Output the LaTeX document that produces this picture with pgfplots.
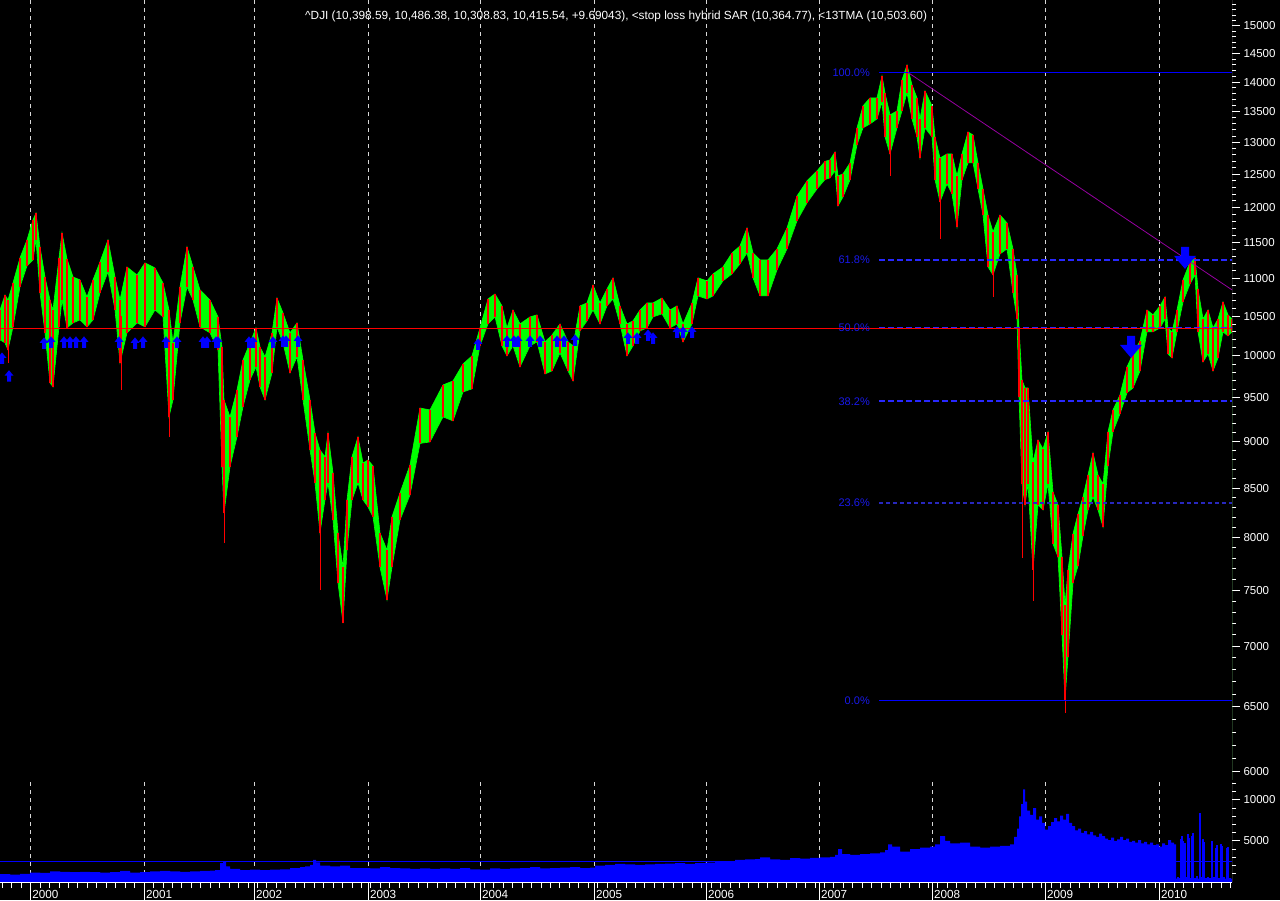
\documentclass[border=0pt]{standalone}
\usepackage{fontspec}
\setmainfont{Liberation Sans}
\usepackage{pgfplots}
\pgfplotsset{compat=1.18}
\usepackage{pgfplotstable}

\definecolor{barg}{RGB}{0,255,0}
\definecolor{barr}{RGB}{255,0,0}
\definecolor{vol}{RGB}{0,0,255}
\definecolor{fibdash}{RGB}{40,40,255}
\definecolor{fibtxt}{RGB}{25,25,235}
\definecolor{fibdark}{RGB}{40,40,190}
\definecolor{trend}{RGB}{150,0,160}
\definecolor{gridc}{RGB}{215,215,215}

% small buy signal and large sell signal
\pgfdeclareplotmark{sigup}{%
  \pgfpathmoveto{\pgfqpoint{-2pt}{-6pt}}%
  \pgfpathlineto{\pgfqpoint{2pt}{-6pt}}%
  \pgfpathlineto{\pgfqpoint{2pt}{0pt}}%
  \pgfpathlineto{\pgfqpoint{4.5pt}{0pt}}%
  \pgfpathlineto{\pgfqpoint{0pt}{5.5pt}}%
  \pgfpathlineto{\pgfqpoint{-4.5pt}{0pt}}%
  \pgfpathlineto{\pgfqpoint{-2pt}{0pt}}%
  \pgfpathclose\pgfusepathqfill}
\pgfdeclareplotmark{sigdown}{%
  \pgfpathmoveto{\pgfqpoint{-4pt}{11pt}}%
  \pgfpathlineto{\pgfqpoint{4pt}{11pt}}%
  \pgfpathlineto{\pgfqpoint{4pt}{2pt}}%
  \pgfpathlineto{\pgfqpoint{11pt}{2pt}}%
  \pgfpathlineto{\pgfqpoint{0pt}{-11pt}}%
  \pgfpathlineto{\pgfqpoint{-11pt}{2pt}}%
  \pgfpathlineto{\pgfqpoint{-4pt}{2pt}}%
  \pgfpathclose\pgfusepathqfill}

% x = bar position on the chart, lo/hi = price range
\pgfplotstableread{
x lo hi
0 10199 10581
5 10161 10778
8 10074 10712
13 10363 10938
20 10885 11280
27 11170 11532
33 11252 11819
36 11532 11920
40 10805 11433
45 10287 11019
50 9674 10712
53 9627 10581
59 10363 11280
62 10712 11632
67 10350 11266
73 10414 11019
80 10452 10979
87 10363 10752
93 10452 10979
100 10805 11224
108 11087 11532
115 10581 11019
120 9915 10712
127 10287 11155
137 10414 11046
145 10363 11211
155 10581 11141
163 10491 10938
169 9278 10581
173 9474 10161
180 10414 10885
187 10885 11433
193 10712 11155
200 10363 10845
210 10287 10712
218 10074 10491
222 8726 10111
224 8243 9474
230 8726 9278
237 9054 9591
243 9393 9951
250 9709 10161
256 9866 10350
260 9627 10111
265 9474 9988
272 9793 10287
277 10363 10738
283 10161 10543
290 9793 10287
297 9988 10414
303 9474 9951
310 8909 9474
315 8555 9097
320 8046 8909
325 8379 8834
328 8555 9097
333 8175 8661
338 7566 8046
343 7203 7716
347 7880 8379
352 8379 8834
358 8555 9054
363 8379 8768
368 8307 8800
373 8206 8736
380 7716 8046
387 7410 7880
392 7716 8206
400 8175 8451
410 8430 8747
420 8980 9380
430 8997 9358
443 9278 9650
453 9233 9697
463 9567 9902
472 9603 10000
480 10124 10350
488 10401 10725
495 10491 10791
502 10124 10634
507 10000 10350
513 10124 10581
520 9866 10401
530 10124 10491
537 10174 10517
545 9781 10174
552 9817 10261
560 10037 10401
568 9817 10174
573 9697 10124
580 10312 10634
587 10439 10673
593 10581 10911
600 10401 10673
607 10634 10858
613 10725 11006
620 10401 10634
627 10000 10401
633 10124 10439
640 10312 10581
647 10350 10673
653 10491 10673
662 10530 10738
670 10350 10581
677 10401 10634
683 10174 10401
692 10401 10673
698 10765 11006
707 10725 10966
713 10765 11060
723 10966 11155
732 11060 11349
740 11197 11447
747 11349 11703
753 11006 11349
760 10765 11252
768 10765 11252
777 11114 11405
787 11405 11703
797 11804 12172
807 12068 12399
817 12277 12552
825 12420 12700
830 12445 12722
835 12552 12848
838 12024 12475
843 12157 12506
850 12414 12676
857 12959 13233
863 13233 13596
870 13298 13730
877 13380 13730
882 13662 14106
885 13086 13814
890 12817 13446
897 13233 13512
902 13512 14037
907 13814 14297
912 13380 13951
917 13086 13730
920 12753 13380
925 13233 13848
932 13086 13596
935 12414 13086
940 12087 12753
947 12353 12817
952 12202 12817
957 11716 12475
962 12414 12817
968 12676 13168
973 12676 13119
978 12277 12676
983 11891 12277
988 11155 11891
993 11046 11646
1000 11335 11891
1007 11405 11775
1013 10805 11405
1017 10465 11046
1019 9509 10350
1022 8545 9709
1025 8327 9614
1028 8545 9614
1033 7688 8778
1038 8327 9019
1043 8276 8920
1048 8545 9110
1053 7938 8461
1058 7812 8327
1062 7098 7812
1065 6553 7365
1068 6909 7688
1073 7566 8036
1078 7726 8236
1083 8016 8409
1088 8276 8640
1093 8409 8877
1098 8276 8640
1103 8105 8545
1108 8736 9110
1113 9110 9358
1120 9313 9532
1127 9557 9866
1133 9614 10025
1140 9817 10186
1147 10300 10581
1153 10300 10517
1160 10350 10634
1165 10465 10752
1168 10025 10350
1172 9975 10300
1177 10300 10581
1183 10686 10979
1190 10925 11224
1195 11046 11280
1198 10300 10858
1203 9926 10465
1208 10025 10581
1213 9817 10350
1218 9975 10465
1223 10300 10686
1228 10248 10517
1232 10300 10465
}\price

\pgfplotstableread{
x lo hi
8 9915 10300
121 9591 10500
169 9054 9900
224 7945 8900
320 7501 8500
890 12475 13300
940 11546 12500
993 10751 11300
1022 7800 8600
1033 7402 8200
1065 6449 7000
}\spikes

\pgfplotstableread{
x y
2 9975
9 9760
44 10161
51 10174
64 10174
70 10174
76 10174
84 10174
119 10174
135 10161
143 10174
166 10174
177 10174
203 10174
207 10174
216 10174
218 10174
249 10174
253 10174
273 10174
283 10186
286 10186
298 10186
478 10149
507 10186
514 10186
518 10186
530 10186
540 10186
557 10186
564 10186
575 10199
628 10224
637 10224
648 10261
653 10224
677 10300
683 10300
692 10300
}\buys

% volume in millions
\pgfplotstableread{
x v
0 950
10 900
20 1000
30 1150
40 1100
50 1300
60 1250
70 1200
80 1250
90 1200
100 1150
110 1200
120 1350
130 1150
140 1200
150 1300
160 1350
170 1300
180 1250
190 1300
200 1350
210 1400
215 1450
220 2300
223 2500
226 1900
230 1600
240 1450
250 1500
260 1450
270 1500
280 1550
290 1700
300 1800
305 1900
310 2100
313 2700
316 2400
320 2000
330 1900
340 2000
350 1700
360 1700
370 1650
380 1800
390 1700
400 1650
410 1600
420 1650
430 1600
440 1650
450 1600
460 1700
470 1550
480 1500
490 1650
500 1600
510 1650
520 1700
530 1800
540 1650
550 1700
560 1750
570 1800
580 1700
590 1750
595 2000
605 2100
615 2200
625 2150
635 2100
645 2150
655 2200
665 2250
675 2300
685 2200
695 2300
705 2350
715 2450
725 2500
735 2700
745 2750
755 2800
760 3000
770 2750
780 2700
790 2900
800 2850
810 2950
820 3000
830 3050
835 3300
838 4000
842 3400
850 3300
860 3400
870 3500
880 3600
885 3900
888 4600
892 4300
900 3700
910 4000
920 4200
930 4300
935 4600
940 5600
945 5000
950 4700
960 4800
970 4300
980 4200
990 4300
1000 4400
1010 4600
1014 5500
1017 6500
1019 8000
1021 9500
1023 11300
1025 9800
1027 8700
1030 8200
1033 9000
1036 7600
1039 8000
1042 7200
1045 6400
1048 6800
1051 7300
1054 7800
1057 7400
1060 8100
1063 7600
1066 8300
1069 7200
1072 6800
1075 6300
1078 6500
1081 6000
1084 6200
1087 5800
1090 6100
1093 5700
1096 5500
1099 5900
1102 5600
1105 5300
1108 5100
1111 5400
1114 5000
1117 5200
1120 5500
1123 5100
1126 5300
1129 4900
1132 5000
1135 4800
1138 5100
1141 4700
1144 4900
1147 4600
1150 4800
1153 4500
1156 4600
1159 4300
1162 4700
1165 4500
1168 5100
1171 4800
1174 4600
1176 400
1232 400
}\volume

\pgfplotstableread{
x v
1178 600
1180 500
1181 5300
1182 5600
1183 5000
1185 4800
1186 600
1188 5900
1189 5400
1191 500
1192 5600
1193 6000
1195 500
1197 700
1200 8400
1201 600
1203 5300
1204 4900
1206 500
1208 600
1210 500
1212 5000
1214 600
1216 4200
1217 4500
1219 500
1221 4600
1222 4400
1224 600
1227 4100
1228 4300
1230 500
}\volgap

\begin{document}
\begin{tikzpicture}
\useasboundingbox (0pt,0pt) rectangle (1280pt,900pt);
\fill[black] (0pt,0pt) rectangle (1280pt,900pt);

% ---- price panel ----
\begin{axis}[
  at={(0pt,120pt)}, anchor=south west, scale only axis,
  width=1232pt, height=780pt,
  xmin=0, xmax=1232,
  ymode=log, ymin=5940, ymax=15487,
  axis line style={draw=none},
  xtick={30.7,144.3,254.3,368.3,480.3,594.3,706.3,819.3,932.3,1045.5,1159.5},
  xticklabels={}, xtick style={draw=none},
  xmajorgrids, grid style={gridc, line width=1pt, dash pattern=on 4pt off 4pt},
  ytick pos=right, tick align=outside,
  ytick={6000,6500,7000,7500,8000,8500,9000,9500,10000,10500,11000,11500,12000,12500,13000,13500,14000,14500,15000},
  yticklabels={6000,6500,7000,7500,8000,8500,9000,9500,10000,10500,11000,11500,12000,12500,13000,13500,14000,14500,15000},
  minor ytick={5900,6100,6200,6300,6400,6600,6700,6800,6900,7100,7200,7300,7400,7600,7700,7800,7900,8100,8200,8300,8400,8600,8700,8800,8900,9100,9200,9300,9400,9600,9700,9800,9900,10100,10200,10300,10400,10600,10700,10800,10900,11100,11200,11300,11400,11600,11700,11800,11900,12100,12200,12300,12400,12600,12700,12800,12900,13100,13200,13300,13400,13600,13700,13800,13900,14100,14200,14300,14400,14600,14700,14800,14900,15100,15200,15300,15400},
  major tick length=8pt, minor tick length=4pt,
  ytick style={white, line width=1pt},
  minor tick style={white, line width=1pt},
  yticklabel style={text=white, font=\fontsize{11.5}{13}\selectfont},
]
% price band: area under the highs in green, area under the lows blacked out again
\addplot [draw=none, fill=barg] table [x=x, y=hi] {\price} \closedcycle;
\addplot [draw=none, fill=black] table [x=x, y=lo] {\price} \closedcycle;
\addplot [barg, line width=0.6pt] table [x=x, y=hi] {\price};
\addplot [barg, line width=0.6pt] table [x=x, y=lo] {\price};
\addplot [draw=none, mark=none, forget plot,
  error bars/.cd, y dir=plus, y explicit, error mark=none,
  error bar style={draw=barr, line width=2.6pt}]
  table [x=x, y=lo, y error expr=\thisrow{hi}-\thisrow{lo}] {\price};
\addplot [draw=none, mark=none, forget plot,
  error bars/.cd, y dir=plus, y explicit, error mark=none,
  error bar style={draw=barr, line width=1pt}]
  table [x=x, y=lo, y error expr=\thisrow{hi}-\thisrow{lo}] {\spikes};

% stop loss level
\addplot [barr, line width=0.8pt] coordinates {(0,10340) (1232,10340)};
% Fibonacci retracement
\addplot [vol, line width=1.2pt] coordinates {(879,14165) (1232,14165)};
\addplot [fibdash, line width=1.8pt, dash pattern=on 6pt off 3pt] coordinates {(879,11255) (1232,11255)};
\addplot [fibdash, line width=1.8pt, dash pattern=on 6pt off 3pt] coordinates {(879,10356) (1232,10356)};
\addplot [fibdash, line width=1.8pt, dash pattern=on 6pt off 3pt] coordinates {(879,9457) (1232,9457)};
\addplot [fibdark, line width=1.4pt, dash pattern=on 4pt off 3pt] coordinates {(879,8345) (1232,8345)};
\addplot [vol, line width=1.2pt] coordinates {(879,6547) (1232,6547)};
% trend line
\addplot [trend, line width=0.8pt] coordinates {(908,14165) (1232,10845)};
% signals
\addplot [only marks, mark=sigup, color=vol] table [x=x, y=y] {\buys};
\addplot [only marks, mark=sigdown, color=vol] coordinates {(1131,10111) (1185,11280)};

\begin{scope}[every node/.style={anchor=east, text=fibtxt, font=\fontsize{11}{13}\selectfont, inner sep=1pt}]
\node at (axis cs:871,14165) {100.0\%};
\node at (axis cs:871,11255) {61.8\%};
\node at (axis cs:871,10356) {50.0\%};
\node at (axis cs:871,9457) {38.2\%};
\node at (axis cs:871,8345) {23.6\%};
\node at (axis cs:871,6547) {0.0\%};
\end{scope}

\node[anchor=west, text=white, inner sep=0pt, font=\fontsize{11.8}{13}\selectfont]
  at (axis cs:305,15170)
  {\textasciicircum DJI (10,398.59, 10,486.38, 10,308.83, 10,415.54, +9.69043), \textless stop loss hybrid SAR (10,364.77), \textless 13TMA (10,503.60)};
\draw[white, line width=1pt] (axis cs:1232,5940) -- (axis cs:1232,15487);
\end{axis}

% ---- volume panel ----
\begin{axis}[
  at={(0pt,18pt)}, anchor=south west, scale only axis,
  width=1232pt, height=100pt,
  xmin=0, xmax=1232, ymin=0, ymax=12195,
  axis line style={draw=none},
  scaled y ticks=false,
  xtick={30.7,144.3,254.3,368.3,480.3,594.3,706.3,819.3,932.3,1045.5,1159.5},
  xticklabels={}, xtick style={draw=none},
  xmajorgrids, grid style={gridc, line width=1pt, dash pattern=on 4pt off 4pt},
  ytick pos=right, tick align=outside,
  ytick={5000,10000}, yticklabels={5000,10000},
  minor ytick={1000,2000,3000,4000,6000,7000,8000,9000,11000,12000},
  major tick length=8pt, minor tick length=4pt,
  ytick style={white, line width=1pt},
  minor tick style={white, line width=1pt},
  yticklabel style={text=white, font=\fontsize{11.5}{13}\selectfont},
]
\addplot [draw=none, fill=vol, const plot] table [x=x, y=v] {\volume} \closedcycle;
\addplot [ycomb, draw=vol, line width=1.5pt] table [x=x, y=v] {\volgap};
\addplot [vol, line width=0.8pt] coordinates {(0,2560) (1232,2560)};
\draw[white, line width=1pt] (axis cs:1232,0) -- (axis cs:1232,12195);
\node[anchor=south west, draw=white, line width=0.8pt, text=white, inner sep=1.5pt,
  font=\fontsize{9}{10}\selectfont, xshift=2pt] at (axis cs:1232,0) {x1000000};
\end{axis}

% ---- time axis ----
\begin{axis}[
  at={(0pt,18pt)}, anchor=south west, scale only axis,
  width=1232pt, height=100pt,
  xmin=0, xmax=1232, ymin=0, ymax=1,
  axis x line*=bottom, axis y line=none,
  axis line style={white, line width=1pt, -},
  xtick={30.7,144.3,254.3,368.3,480.3,594.3,706.3,819.3,932.3,1045.5,1159.5},
  xticklabels={2000,2001,2002,2003,2004,2005,2006,2007,2008,2009,2010},
  minor xtick={2.35,11.8,...,1232},
  tick align=outside,
  major tick length=18pt, minor tick length=6pt,
  xtick style={white, line width=1pt},
  minor tick style={white, line width=1pt},
  xticklabel style={text=white, anchor=north west, inner sep=0pt, xshift=1.5pt, yshift=10pt,
    font=\fontsize{11.7}{13}\selectfont},
]
\addplot [draw=none, forget plot] coordinates {(0,0) (1232,1)};
\end{axis}
\end{tikzpicture}
\end{document}
